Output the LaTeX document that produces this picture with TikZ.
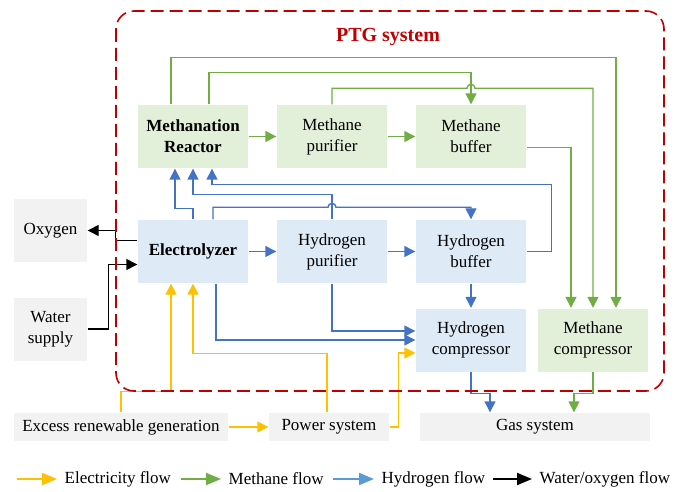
\documentclass[tikz,border=0pt]{standalone}
\usepackage{fontspec}
\setmainfont{Liberation Serif}
\usetikzlibrary{arrows.meta, positioning}
\definecolor{ptgred}{HTML}{C00000}
\definecolor{gfill}{HTML}{E2F0D9}
\definecolor{hfill}{HTML}{DEEBF7}
\definecolor{outfill}{HTML}{F2F2F2}
\definecolor{gline}{HTML}{70AD47}
\definecolor{hline}{HTML}{4472C4}
\definecolor{hlegend}{HTML}{5B9BD5}
\definecolor{eline}{HTML}{FFC000}

\begin{document}
\fontsize{17}{21}\selectfont
\begin{tikzpicture}[x=1pt, y=-1pt, node distance=139pt, on grid,
    >={Triangle[length=11pt, width=11pt]}, line width=1.4pt,
    box/.style={minimum width=110pt, minimum height=63pt, inner sep=1pt, align=center},
    gbox/.style={box, fill=gfill},
    hbox/.style={box, fill=hfill},
    outbox/.style={fill=outfill, inner sep=1pt, align=center},
    gflow/.style={->, draw=gline},
    hflow/.style={->, draw=hline},
    eflow/.style={->, draw=eline},
    wflow/.style={->, draw=black},
    legarrow/.style={line width=2pt, -{Triangle[length=15pt, width=12pt]}},
    legtxt/.style={anchor=west, inner xsep=7pt, inner ysep=0pt}]
  \useasboundingbox (0,0) rectangle (678,492);
  % PTG units
  \node[gbox, font=\bfseries] (mr) at (193,136.5) {Methanation\\Reactor};
  \node[gbox] (mpur) [right=of mr] {Methane\\purifier};
  \node[gbox] (mbuf) [right=of mpur] {Methane\\buffer};
  \node[hbox, font=\bfseries] (elec) [below=115pt of mr] {Electrolyzer};
  \node[hbox] (hpur) [right=of elec] {Hydrogen\\purifier};
  \node[hbox] (hbuf) [right=of hpur] {Hydrogen\\buffer};
  \node[hbox] (hcomp) [below=88.5pt of hbuf] {Hydrogen\\compressor};
  \node[gbox] (mcomp) [right=122pt of hcomp] {Methane\\compressor};
  % outside the PTG system
  \node[outbox, minimum width=73pt, minimum height=63pt] (oxy) at (50.5,230.5) {Oxygen};
  \node[outbox, minimum width=73pt, minimum height=63pt] (water) at (50.5,329) {Water\\supply};
  \node[outbox, minimum width=214pt, minimum height=28pt] (res) at (121,427) {Excess renewable generation};
  \node[outbox, minimum width=120pt, minimum height=28pt] (pow) at (329,427) {Power system};
  \node[outbox, minimum width=230pt, minimum height=28pt] (gas) at (535,427) {Gas system};
  % methane flow
  \draw[gflow] (mr) -- (mpur);
  \draw[gflow] (mpur) -- (mbuf);
  \draw[gflow] ([xshift=-22pt]mr.north) -- ++(0,-47) -| ([xshift=23pt]mcomp.north);
  \draw[gflow] ([xshift=16pt]mr.north) -- ++(0,-32) -| (mbuf.north);
  \draw[gflow] (mpur.north) -- ++(0,-16) -- ++(135,0)
    arc[start angle=180, end angle=0, radius=4pt] -| (mcomp.north);
  \draw[gflow] ([yshift=-11pt]mbuf.east) -| ([xshift=-22pt]mcomp.north);
  \draw[gflow] (mcomp.south) -- ++(0,21) -| ([xshift=39pt]gas.north);
  % hydrogen flow
  \draw[hflow] (elec) -- (hpur);
  \draw[hflow] (hpur) -- (hbuf);
  \draw[hflow] (hbuf) -- (hcomp);
  \draw[hflow] (hpur.south) |- ([yshift=9pt]hcomp.west);
  \draw[hflow] ([xshift=23pt]elec.south) |- (hcomp.west);
  \draw[hflow] (elec.north) -- ++(0,-11) -| ([xshift=-18pt]mr.south);
  \draw[hflow] (hpur.north) -- ++(0,-25) -| (mr.south);
  \draw[hflow] ([xshift=20pt]elec.north) -- ++(0,-12) -- ++(115,0)
    arc[start angle=180, end angle=0, radius=4pt] -| (hbuf.north);
  \draw[hflow] (hbuf.east) -- ++(25,0) -- ++(0,-67) -| ([xshift=19pt]mr.south);
  \draw[hflow] (hcomp.south) -- ++(0,21) -| ([xshift=-45pt]gas.north);
  % electricity flow
  \draw[eflow] (res) -- (pow);
  \draw[eflow] (res.north) -- ++(0,-21) -| ([xshift=-22pt]elec.south);
  \draw[eflow] ([xshift=-2pt]pow.north) -- ++(0,-59) -| (elec.south);
  \draw[eflow] (pow.east) -- ++(9,0) |- ([yshift=-13pt]hcomp.west);
  % water / oxygen flow
  \draw[wflow] ([yshift=11pt]elec.west) -- ++(-22,0) |- (oxy.east);
  \draw[wflow] (water.east) -- ++(21,0) |- ([yshift=-13pt]elec.west);
  % PTG boundary
  \draw[ptgred, line width=1.6pt, dash pattern=on 13pt off 6pt, rounded corners=18pt]
    (116,11) rectangle (664,391);
  \node[font=\bfseries\fontsize{20}{24}\selectfont, text=ptgred] (ptg) at (388,37) {PTG system};
  % legend
  \coordinate (ly) at (17,479);
  \coordinate (lg) at (181,479);
  \coordinate (lh) at (333,479);
  \coordinate (lw) at (493,479);
  \node[legtxt] (tly) at (57,479) {Electricity flow};
  \node[legtxt] (tlg) at (221,479) {Methane flow};
  \node[legtxt] (tlh) at (374,479) {Hydrogen flow};
  \node[legtxt] (tlw) at (532,479) {Water/oxygen flow};
  \draw[eline, legarrow] (ly) -- (tly.west);
  \draw[gline, legarrow] (lg) -- (tlg.west);
  \draw[hlegend, legarrow] (lh) -- (tlh.west);
  \draw[black, legarrow] (lw) -- (tlw.west);
\end{tikzpicture}
\end{document}
